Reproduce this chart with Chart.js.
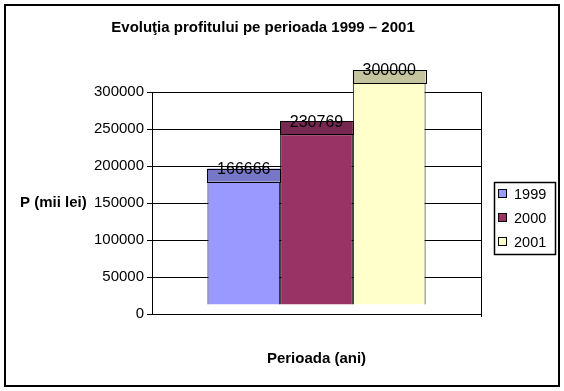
<!DOCTYPE html>
<html>
<head>
<meta charset="utf-8">
<script src="https://cdn.jsdelivr.net/npm/chart.js@4.4.0/dist/chart.umd.min.js"></script>
<style>
  html, body { margin: 0; padding: 0; background: #fff; }
</style>
</head>
<body>
<canvas id="myChart" width="564" height="391"></canvas>
<script>
// data
const years = ["1999", "2000", "2001"];
const profit = [166666, 230769, 300000];
const yMin = 0;
const yMax = 300000;
const yStep = 50000;

// colours (front face / top face)
const frontColors = ["#9999FF", "#993366", "#FFFFCC"];
const topColors = ["#7777C8", "#772850", "#C4C49E"];

const FONT = "'Liberation Sans', Arial, sans-serif";
const DEPTH_SHIFT = 9;   // front face sits a bit above the back wall floor
const TOP_FACE = 13;     // height of the 3d top face

// shift bars and add the 3d top + value labels
const bar3d = {
  id: "bar3d",
  beforeDatasetsDraw(chart) {
    chart.ctx.save();
    chart.ctx.translate(0, -DEPTH_SHIFT);
  },
  afterDatasetsDraw(chart) {
    const ctx = chart.ctx;
    chart.data.datasets.forEach((ds, i) => {
      chart.getDatasetMeta(i).data.forEach(bar => {
        const left = bar.x - bar.width / 2;
        ctx.fillStyle = topColors[i];
        ctx.fillRect(left, bar.y - TOP_FACE, bar.width, TOP_FACE);
        ctx.strokeStyle = "#000";
        ctx.lineWidth = 1;
        ctx.strokeRect(Math.round(left) + 0.5, Math.round(bar.y - TOP_FACE) + 0.5, Math.round(bar.width), TOP_FACE);
      });
    });
    ctx.restore();

    ctx.save();
    ctx.fillStyle = "#000";
    ctx.font = "16px " + FONT;
    ctx.textAlign = "center";
    ctx.textBaseline = "middle";
    chart.data.datasets.forEach((ds, i) => {
      chart.getDatasetMeta(i).data.forEach((bar, j) => {
        ctx.fillText(String(ds.data[j]), bar.x, bar.y - DEPTH_SHIFT - TOP_FACE + 1);
      });
    });
    ctx.restore();
  }
};

// frame, titles, wall edge and legend
const decor = {
  id: "decor",
  afterDraw(chart) {
    const ctx = chart.ctx;
    const area = chart.chartArea;
    ctx.save();

    // outer frame
    ctx.strokeStyle = "#000";
    ctx.lineWidth = 2;
    ctx.strokeRect(5, 5, 554, 381);

    // right edge of back wall
    ctx.lineWidth = 1;
    ctx.beginPath();
    ctx.moveTo(Math.round(area.right) + 0.5, area.top);
    ctx.lineTo(Math.round(area.right) + 0.5, area.bottom + 3);
    ctx.stroke();

    // title
    ctx.fillStyle = "#000";
    ctx.font = "bold 15px " + FONT;
    ctx.textAlign = "center";
    ctx.textBaseline = "middle";
    ctx.fillText("Evoluţia profitului pe perioada 1999 – 2001", 263, 28);

    // y title (horizontal)
    ctx.font = "bold 15px " + FONT;
    ctx.textAlign = "left";
    ctx.fillText("P (mii lei)", 20, (area.top + area.bottom) / 2);

    // legend
    ctx.lineWidth = 1.5;
    ctx.strokeRect(494.5, 182.5, 61, 72);
    ctx.font = "14.5px " + FONT;
    years.forEach((y, i) => {
      const cy = 194 + i * 24;
      ctx.fillStyle = frontColors[i];
      ctx.fillRect(498, cy - 5, 9, 9);
      ctx.lineWidth = 1;
      ctx.strokeRect(498.5, cy - 4.5, 8, 8);
      ctx.fillStyle = "#000";
      ctx.fillText(y, 514, cy + 1);
    });
    ctx.restore();
  }
};

new Chart("myChart", {
  type: "bar",
  data: {
    labels: [""],
    datasets: years.map((y, i) => ({
      label: y,
      data: [profit[i]],
      backgroundColor: frontColors[i],
      borderColor: "#000",
      borderWidth: 1,
      clip: false
    }))
  },
  options: {
    responsive: false,
    animation: false,
    devicePixelRatio: 1,
    layout: { padding: { top: 92, right: 83, left: 0, bottom: 0 } },
    datasets: { bar: { categoryPercentage: 0.663, barPercentage: 1 } },
    plugins: {
      legend: { display: false },
      title: { display: false },
      tooltip: { enabled: false }
    },
    scales: {
      x: {
        grid: { display: false },
        border: { display: false },
        ticks: { display: false },
        title: {
          display: true,
          text: "Perioada (ani)",
          color: "#000",
          font: { family: FONT, size: 15, weight: "bold" },
          padding: { top: 0, bottom: 23 }
        },
        afterFit(scale) { scale.height = 77; }
      },
      y: {
        min: yMin,
        max: yMax,
        ticks: {
          stepSize: yStep,
          color: "#000",
          padding: 3,
          font: { family: FONT, size: 15 },
          callback: v => String(v)
        },
        grid: { color: "#000", lineWidth: 1, tickLength: 5, drawTicks: true },
        border: { display: true, color: "#000", width: 1 },
        afterFit(scale) { scale.width = 152; }
      }
    }
  },
  plugins: [bar3d, decor]
});
</script>
</body>
</html>
